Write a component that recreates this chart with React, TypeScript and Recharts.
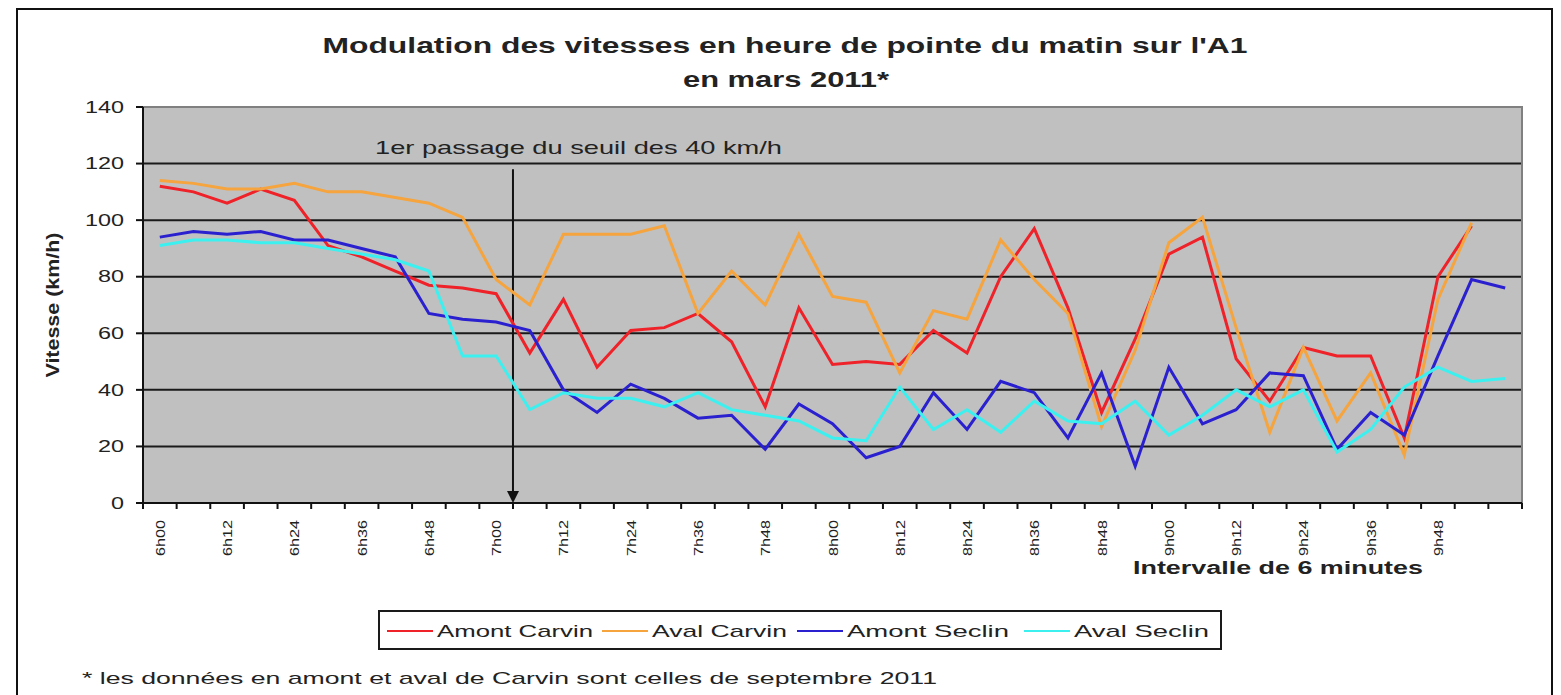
import { CartesianGrid, Legend, Line, LineChart, ReferenceArea, ReferenceLine, XAxis, YAxis } from "recharts";

// categories: one point every 6 minutes
const times = [
  '6h00', '6h06', '6h12', '6h18', '6h24', '6h30', '6h36', '6h42', '6h48', '6h54',
  '7h00', '7h06', '7h12', '7h18', '7h24', '7h30', '7h36', '7h42', '7h48', '7h54',
  '8h00', '8h06', '8h12', '8h18', '8h24', '8h30', '8h36', '8h42', '8h48', '8h54',
  '9h00', '9h06', '9h12', '9h18', '9h24', '9h30', '9h36', '9h42', '9h48', '9h54',
  '10h00',
];

// only every other label is printed
const shownLabels = [
  '6h00', '6h12', '6h24', '6h36', '6h48', '7h00', '7h12', '7h24', '7h36', '7h48',
  '8h00', '8h12', '8h24', '8h36', '8h48', '9h00', '9h12', '9h24', '9h36', '9h48',
];

const amontCarvin = [112, 110, 106, 111, 107, 91, 87, 82, 77, 76, 74, 53, 72, 48, 61, 62, 67, 57, 34, 69, 49, 50, 49, 61, 53, 80, 97, 69, 32, 58, 88, 94, 51, 36, 55, 52, 52, 23, 80, 98, null];
const avalCarvin = [114, 113, 111, 111, 113, 110, 110, 108, 106, 101, 79, 70, 95, 95, 95, 98, 67, 82, 70, 95, 73, 71, 46, 68, 65, 93, 79, 67, 27, 54, 92, 101, 62, 25, 55, 29, 46, 17, 72, 99, null];
const amontSeclin = [94, 96, 95, 96, 93, 93, 90, 87, 67, 65, 64, 61, 40, 32, 42, 37, 30, 31, 19, 35, 28, 16, 20, 39, 26, 43, 39, 23, 46, 13, 48, 28, 33, 46, 45, 19, 32, 24, 52, 79, 76];
const avalSeclin = [91, 93, 93, 92, 92, 90, 88, 86, 82, 52, 52, 33, 39, 37, 37, 34, 39, 33, 31, 29, 23, 22, 41, 26, 33, 25, 36, 29, 28, 36, 24, 31, 40, 34, 40, 18, 26, 41, 48, 43, 44];

const seriesOrder = ['Amont Carvin', 'Aval Carvin', 'Amont Seclin', 'Aval Seclin'];

const yTicks = [0, 20, 40, 60, 80, 100, 120, 140];
const gridValues = [20, 40, 60, 80, 100, 120];

const seuilTime = '7h00';

const rows = times.map((t, i) => ({
  time: t,
  amontCarvin: amontCarvin[i],
  avalCarvin: avalCarvin[i],
  amontSeclin: amontSeclin[i],
  avalSeclin: avalSeclin[i],
}));

const FONT = '"Liberation Sans", Arial, sans-serif';
const W = 1561;
const H = 695;
const PLOT_LEFT = 143;
const PLOT_RIGHT = 1522;
const step = (PLOT_RIGHT - PLOT_LEFT) / times.length;

function TimeTick(props: any) {
  const { x, y, payload } = props;
  const isLast = payload.index === times.length - 1;
  return (
    <g>
      <line x1={x - step / 2} x2={x - step / 2} y1={y} y2={y + 6} stroke="#111" strokeWidth={2} />
      {isLast && <line x1={x + step / 2} x2={x + step / 2} y1={y} y2={y + 6} stroke="#111" strokeWidth={2} />}
      {shownLabels.includes(payload.value) && (
        <text
          transform={`translate(${x + 5},${y + 17}) rotate(-90)`}
          textAnchor="end"
          fontFamily={FONT}
          fontSize={13}
          fill="#222"
          textLength={payload.value.length * 9}
          lengthAdjust="spacingAndGlyphs"
        >
          {payload.value}
        </text>
      )}
    </g>
  );
}

function SpeedTick(props: any) {
  const { x, y, payload } = props;
  const s = String(payload.value);
  return (
    <text x={x} y={y} dy="0.36em" textAnchor="end" fontFamily={FONT} fontSize={16} fill="#222"
      textLength={s.length * 13} lengthAdjust="spacingAndGlyphs">
      {s}
    </text>
  );
}

function Arrow(props: any) {
  const { x1, y1, x2, y2 } = props;
  return (
    <g>
      <line x1={x1} y1={y1} x2={x2} y2={y2 - 10} stroke="#111" strokeWidth={2} />
      <polygon points={`${x2 - 6},${y2 - 12} ${x2 + 6},${y2 - 12} ${x2},${y2}`} fill="#111" />
    </g>
  );
}

const legendX = [7, 222, 417, 644];
const legendLen = [156, 135, 162, 135];

function LegendBox(props: any) {
  const payload = [...(props.payload || [])].sort(
    (a: any, b: any) => seriesOrder.indexOf(a.value) - seriesOrder.indexOf(b.value),
  );
  return (
    <div style={{ width: 840, height: 36, border: '2px solid #1a1a1a', background: '#fff' }}>
      <svg width={840} height={36} style={{ display: 'block' }}>
        {payload.map((item: any, i: number) => (
          <g key={item.value}>
            <line x1={legendX[i]} x2={legendX[i] + 46} y1={19} y2={19} stroke={item.color} strokeWidth={2} />
            <text x={legendX[i] + 50} y={25} fontFamily={FONT} fontSize={17} fill="#222"
              textLength={legendLen[i]} lengthAdjust="spacingAndGlyphs">
              {item.value}
            </text>
          </g>
        ))}
      </svg>
    </div>
  );
}

export default function App() {
  return (
    <div style={{ position: 'absolute', left: 0, top: 0, width: W, height: H, overflow: 'hidden', background: '#fff' }}>
      <div style={{ position: 'absolute', left: 16, top: 8, width: 1533, height: 720, border: '2px solid #111' }} />
      <div style={{ position: 'absolute', left: 0, top: 0 }}>
        <LineChart width={W} height={H} data={rows} margin={{ top: 107, right: W - PLOT_RIGHT, bottom: 122, left: 20 }}>
          <CartesianGrid fill="#c0c0c0" vertical={false} horizontalValues={gridValues} stroke="#1a1a1a" strokeWidth={2} />
          <ReferenceArea y1={0} y2={140} fill="none" stroke="#808080" strokeWidth={2} />
          <XAxis dataKey="time" scale="band" interval={0} height={70} tickSize={0} tickMargin={0} tickLine={false}
            axisLine={{ stroke: '#111', strokeWidth: 2 }} tick={<TimeTick />} />
          <YAxis domain={[0, 140]} ticks={yTicks} width={PLOT_LEFT - 20} tickSize={7} tickMargin={12}
            axisLine={{ stroke: '#111', strokeWidth: 2 }} tickLine={{ stroke: '#111', strokeWidth: 2 }} tick={<SpeedTick />} />
          <ReferenceLine segment={[{ x: seuilTime, y: 118 }, { x: seuilTime, y: 0 }]} position="end" shape={<Arrow />} />
          <Line type="linear" dataKey="amontCarvin" name="Amont Carvin" stroke="#ee2228" strokeWidth={3} dot={false} isAnimationActive={false} />
          <Line type="linear" dataKey="avalCarvin" name="Aval Carvin" stroke="#f5a43e" strokeWidth={3} dot={false} isAnimationActive={false} />
          <Line type="linear" dataKey="amontSeclin" name="Amont Seclin" stroke="#2a20cf" strokeWidth={3} dot={false} isAnimationActive={false} />
          <Line type="linear" dataKey="avalSeclin" name="Aval Seclin" stroke="#3cf0f0" strokeWidth={3} dot={false} isAnimationActive={false} />
          <Legend layout="horizontal" align="center" verticalAlign="middle" content={<LegendBox />}
            wrapperStyle={{ left: 378, top: 610, width: 844, height: 40 }} />
        </LineChart>
      </div>
      <svg width={W} height={H} style={{ position: 'absolute', left: 0, top: 0, pointerEvents: 'none' }}>
        <text x={785} y={53} textAnchor="middle" fontFamily={FONT} fontSize={22} fontWeight="bold" fill="#222"
          textLength={925} lengthAdjust="spacingAndGlyphs">
          Modulation des vitesses en heure de pointe du matin sur l'A1
        </text>
        <text x={786} y={87} textAnchor="middle" fontFamily={FONT} fontSize={22} fontWeight="bold" fill="#222"
          textLength={206} lengthAdjust="spacingAndGlyphs">
          en mars 2011*
        </text>
        <text transform="translate(59,305) rotate(-90)" textAnchor="middle" fontFamily={FONT} fontSize={19} fontWeight="bold" fill="#222"
          textLength={145} lengthAdjust="spacingAndGlyphs">
          Vitesse (km/h)
        </text>
        <text x={1133} y={574} fontFamily={FONT} fontSize={18} fontWeight="bold" fill="#222"
          textLength={290} lengthAdjust="spacingAndGlyphs">
          Intervalle de 6 minutes
        </text>
        <text x={375} y={154} fontFamily={FONT} fontSize={19} fill="#222"
          textLength={407} lengthAdjust="spacingAndGlyphs">
          1er passage du seuil des 40 km/h
        </text>
        <text x={82} y={684} fontFamily={FONT} fontSize={17} fill="#222"
          textLength={855} lengthAdjust="spacingAndGlyphs">
          * les données en amont et aval de Carvin sont celles de septembre 2011
        </text>
      </svg>
    </div>
  );
}
